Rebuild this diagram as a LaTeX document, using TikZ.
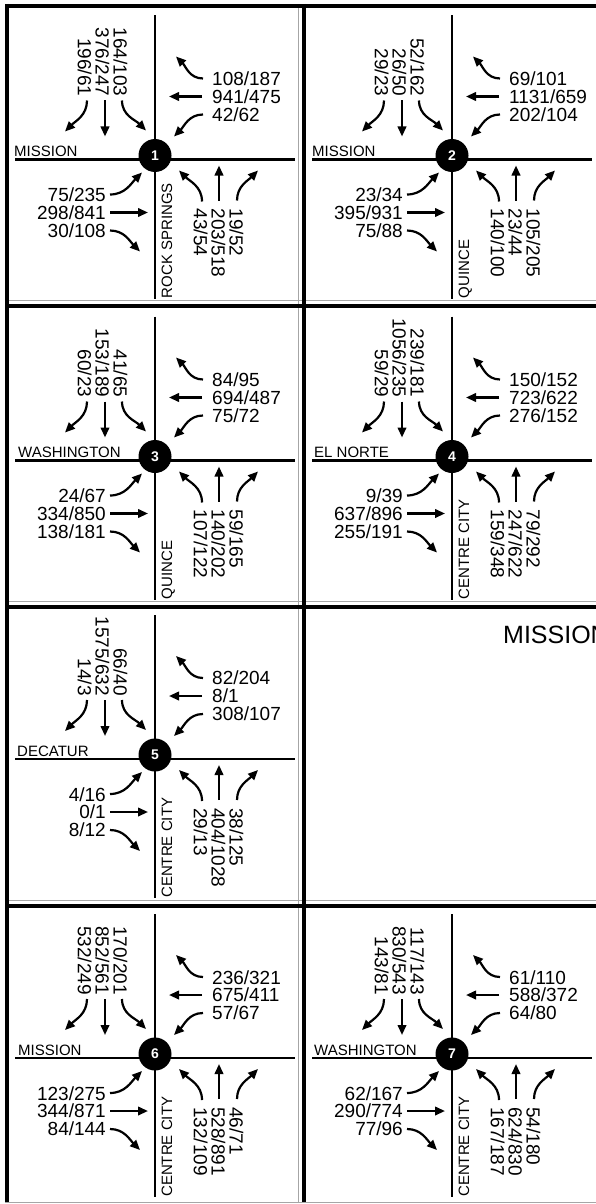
\documentclass[tikz,border=0pt]{standalone}
\usepackage{fontspec}
\setmainfont{Liberation Sans}
\usetikzlibrary{arrows.meta}

\begin{document}
\begin{tikzpicture}[
  x=1pt, y=1pt,
  font=\fontsize{19}{17.8}\selectfont,
  road/.style={line width=2.6pt},
  thickrule/.style={line width=4pt},
  thinrule/.style={line width=0.6pt, draw=gray!70},
  move/.style={line width=2.2pt, -{Triangle[length=10pt,width=8.5pt]}},
  marker/.style={circle, fill=black, minimum size=33pt, inner sep=0pt, text=white, font=\fontsize{14}{14}\selectfont\bfseries},
  vol/.style={inner sep=0pt},
  sbvol/.style={vol, rotate=-90, anchor=east, align=right},
  nbvol/.style={vol, rotate=-90, anchor=west, align=left},
  wbvol/.style={vol, anchor=west, align=left},
  ebvol/.style={vol, anchor=east, align=right},
  ewname/.style={inner sep=0pt, anchor=base west, font=\fontsize{15}{15}\selectfont},
  nsname/.style={ewname, rotate=90},
  bigname/.style={inner sep=0pt, anchor=base west, font=\fontsize{25}{25}\selectfont}
]
\path[use as bounding box] (0,0) rectangle (596,-1204);

% panel frames
\foreach \y in {-300.6,-600.8,-900.6,-1202}
  \draw[thinrule] (5,\y) -- (596,\y);
\draw[thinrule] (298,-4) -- (298,-1202);
\foreach \y in {-6,-305.6,-606.6,-905.6}
  \draw[thickrule] (5,\y) -- (596,\y);
\foreach \x in {7,304}
  \draw[thickrule] (\x,-4) -- (\x,-1202);

% intersections: roads, turning movements, number
\foreach \n/\cx/\cy in {1/155/-159.5, 2/452/-159.5, 3/155/-460.5, 4/452/-460.5, 5/155/-759, 6/155/-1058, 7/452/-1058}{
  \coordinate (x\n) at (\cx,\cy);
  \begin{scope}[shift={(x\n)}]
    \draw[road] (0,144) -- (0,-139);
    \draw[road] (-140,0) -- (140,0);
    % southbound
    \draw[move] (-68,59) to[out=-90,in=45] (-90,28);
    \draw[move] (-50,59) -- (-50,23);
    \draw[move] (-33,59) to[out=-90,in=135] (-9,29);
    % westbound
    \draw[move] (48,81) to[out=180,in=-45] (21,103);
    \draw[move] (47,63) -- (14,63);
    \draw[move] (48,45) to[out=180,in=45] (19,23);
    % eastbound
    \draw[move] (-45,-35) to[out=0,in=225] (-13,-13);
    \draw[move] (-45,-53) -- (-7,-53);
    \draw[move] (-45,-71) to[out=0,in=135] (-15,-92);
    % northbound
    \draw[move] (47,-42) to[out=90,in=-45] (24,-11);
    \draw[move] (64,-41) -- (64,-6);
    \draw[move] (82,-41) to[out=90,in=225] (103,-11);
    \node[marker] (c\n) at (0,4) {\n};
  \end{scope}
}

% 1
\node[sbvol] (sb1) at ([shift={(-52.5,63)}]x1) {164/103\\376/247\\196/61};
\node[wbvol] (wb1) at ([shift={(57,63)}]x1) {108/187\\941/475\\42/62};
\node[ebvol] (eb1) at ([shift={(-49,-53)}]x1) {75/235\\298/841\\30/108};
\node[nbvol] (nb1) at ([shift={(63.5,-49)}]x1) {19/52\\203/518\\43/54};
\node[ewname] (ew1) at ([shift={(-141,3)}]x1) {MISSION};
\node[nsname] (ns1) at ([shift={(17,-139)}]x1) {ROCK SPRINGS};

% 2
\node[sbvol] (sb2) at ([shift={(-52.5,63)}]x2) {52/162\\26/50\\29/23};
\node[wbvol] (wb2) at ([shift={(57,63)}]x2) {69/101\\1131/659\\202/104};
\node[ebvol] (eb2) at ([shift={(-49,-53)}]x2) {23/34\\395/931\\75/88};
\node[nbvol] (nb2) at ([shift={(63.5,-49)}]x2) {105/205\\23/44\\140/100};
\node[ewname] (ew2) at ([shift={(-140,3)}]x2) {MISSION};
\node[nsname] (ns2) at ([shift={(17,-139)}]x2) {QUINCE};

% 3
\node[sbvol] (sb3) at ([shift={(-52.5,63)}]x3) {41/65\\153/189\\60/23};
\node[wbvol] (wb3) at ([shift={(57,63)}]x3) {84/95\\694/487\\75/72};
\node[ebvol] (eb3) at ([shift={(-49,-53)}]x3) {24/67\\334/850\\138/181};
\node[nbvol] (nb3) at ([shift={(63.5,-49)}]x3) {59/165\\140/202\\107/122};
\node[ewname] (ew3) at ([shift={(-137,3)}]x3) {WASHINGTON};
\node[nsname] (ns3) at ([shift={(17,-139)}]x3) {QUINCE};

% 4
\node[sbvol] (sb4) at ([shift={(-52.5,63)}]x4) {239/181\\1056/235\\59/29};
\node[wbvol] (wb4) at ([shift={(57,63)}]x4) {150/152\\723/622\\276/152};
\node[ebvol] (eb4) at ([shift={(-49,-53)}]x4) {9/39\\637/896\\255/191};
\node[nbvol] (nb4) at ([shift={(63.5,-49)}]x4) {79/292\\247/622\\159/348};
\node[ewname] (ew4) at ([shift={(-138,3)}]x4) {EL NORTE};
\node[nsname] (ns4) at ([shift={(17,-139)}]x4) {CENTRE CITY};

% 5
\node[sbvol] (sb5) at ([shift={(-52.5,63)}]x5) {66/40\\1575/632\\14/3};
\node[wbvol] (wb5) at ([shift={(57,63)}]x5) {82/204\\8/1\\308/107};
\node[ebvol] (eb5) at ([shift={(-49,-53)}]x5) {4/16\\0/1\\8/12};
\node[nbvol] (nb5) at ([shift={(63.5,-49)}]x5) {38/125\\404/1028\\29/13};
\node[ewname] (ew5) at ([shift={(-138,3)}]x5) {DECATUR};
\node[nsname] (ns5) at ([shift={(17,-139)}]x5) {CENTRE CITY};

\node[bigname] (mission) at (503,-643) {MISSION};

% 6
\node[sbvol] (sb6) at ([shift={(-52.5,63)}]x6) {170/201\\852/561\\532/249};
\node[wbvol] (wb6) at ([shift={(57,63)}]x6) {236/321\\675/411\\57/67};
\node[ebvol] (eb6) at ([shift={(-49,-53)}]x6) {123/275\\344/871\\84/144};
\node[nbvol] (nb6) at ([shift={(63.5,-49)}]x6) {46/71\\528/891\\132/109};
\node[ewname] (ew6) at ([shift={(-137,3)}]x6) {MISSION};
\node[nsname] (ns6) at ([shift={(17,-139)}]x6) {CENTRE CITY};

% 7
\node[sbvol] (sb7) at ([shift={(-52.5,63)}]x7) {117/143\\830/543\\143/81};
\node[wbvol] (wb7) at ([shift={(57,63)}]x7) {61/110\\588/372\\64/80};
\node[ebvol] (eb7) at ([shift={(-49,-53)}]x7) {62/167\\290/774\\77/96};
\node[nbvol] (nb7) at ([shift={(63.5,-49)}]x7) {54/180\\624/830\\167/187};
\node[ewname] (ew7) at ([shift={(-138,3)}]x7) {WASHINGTON};
\node[nsname] (ns7) at ([shift={(17,-139)}]x7) {CENTRE CITY};
\end{tikzpicture}
\end{document}
